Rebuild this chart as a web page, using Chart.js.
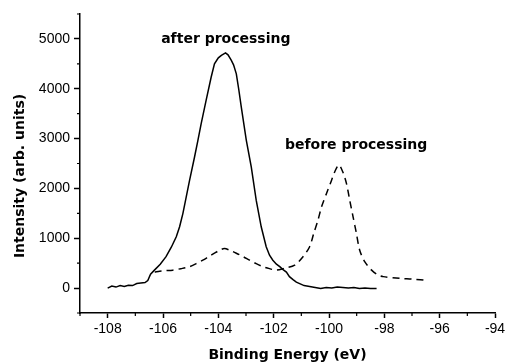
<!DOCTYPE html>
<html>
<head>
<meta charset="utf-8">
<script src="https://cdn.jsdelivr.net/npm/chart.js@4/dist/chart.umd.min.js"></script>
<style>
  html, body { margin: 0; padding: 0; background: #fff; }
  canvas { display: block; }
</style>
</head>
<body>
<canvas id="xpsChart" width="506" height="364"></canvas>
<script>
// --- data ---
const afterX = [-108.0, -107.85, -107.7, -107.55, -107.4, -107.25, -107.1, -106.95, -106.8, -106.65,
  -106.55, -106.45, -106.31, -106.1, -105.89, -105.7, -105.52, -105.4, -105.28, -105.16,
  -105.04, -104.86, -104.74, -104.62, -104.44, -104.26, -104.14, -104.0, -103.89, -103.8,
  -103.74, -103.65, -103.53, -103.45, -103.35, -103.26, -103.17, -102.99, -102.81, -102.63,
  -102.45, -102.27, -102.15, -102.03, -101.9, -101.78, -101.66, -101.54, -101.43, -101.3,
  -101.18, -101.06, -100.9, -100.7, -100.5, -100.3, -100.1, -99.9, -99.7, -99.5,
  -99.3, -99.1, -98.9, -98.7, -98.5, -98.28];
const afterY = [0, 40, 20, 50, 30, 55, 50, 90, 100, 110,
  150, 280, 360, 480, 630, 820, 1030, 1230, 1500, 1830,
  2160, 2630, 2960, 3300, 3770, 4230, 4500, 4620, 4670, 4700,
  4720, 4680, 4570, 4480, 4300, 3980, 3630, 2970, 2430, 1760,
  1230, 830, 660, 560, 480, 430, 370, 320, 230, 170,
  120, 90, 50, 30, 10, -10, 10, 0, 20, 10,
  0, 10, -10, 0, -10, -10];

const beforeX = [-106.3, -106.12, -105.9, -105.65, -105.35, -105.04, -104.8, -104.56, -104.35, -104.14,
  -103.95, -103.78, -103.55, -103.35, -103.1, -102.87, -102.63, -102.39, -102.15, -101.9,
  -101.6, -101.24, -100.94, -100.7, -100.55, -100.4, -100.27, -100.09, -99.91, -99.78,
  -99.64, -99.5, -99.37, -99.25, -99.13, -99.01, -98.89, -98.71, -98.46, -98.25,
  -98.04, -97.44, -97.0, -96.59, -96.46];
const beforeY = [320, 340, 350, 360, 390, 430, 490, 560, 630, 700,
  760, 795, 750, 700, 630, 560, 490, 430, 390, 360,
  400, 460, 630, 830, 1100, 1360, 1630, 1900, 2160, 2350,
  2470, 2330, 2100, 1760, 1430, 1100, 760, 530, 360, 270,
  230, 195, 180, 160, 140];

const xTicks = [-108, -106, -104, -102, -100, -98, -96, -94];
const xMinor = [-109, -107, -105, -103, -101, -99, -97, -95];
const yTicks = [0, 1000, 2000, 3000, 4000, 5000];
const yMinor = [-500, 500, 1500, 2500, 3500, 4500, 5500];

const notes = [
  { text: 'after processing', x: -103.73, y: 5000 },
  { text: 'before processing', x: -99.02, y: 2860 }
];

const boldFont = 'bold 14px "DejaVu Sans", sans-serif';

function toPoints(xs, ys) {
  return xs.map((x, i) => ({ x: x, y: ys[i] }));
}

// minor ticks, curve labels and the y title
const extras = {
  id: 'extras',
  afterDraw(chart) {
    const ctx = chart.ctx;
    const xs = chart.scales.x, ys = chart.scales.y;
    ctx.save();
    ctx.strokeStyle = '#000';
    ctx.lineWidth = 1.2;
    ctx.beginPath();
    xMinor.forEach(v => {
      const px = xs.getPixelForValue(v);
      ctx.moveTo(px, xs.top);
      ctx.lineTo(px, xs.top + 3);
    });
    yMinor.forEach(v => {
      const py = ys.getPixelForValue(v);
      ctx.moveTo(ys.right, py);
      ctx.lineTo(ys.right - 3, py);
    });
    ctx.stroke();

    ctx.fillStyle = '#000';
    ctx.font = boldFont;
    ctx.textAlign = 'center';
    ctx.textBaseline = 'middle';
    notes.forEach(n => {
      ctx.fillText(n.text, xs.getPixelForValue(n.x), ys.getPixelForValue(n.y));
    });

    ctx.translate(ys.left + 20, ys.getPixelForValue(2250));
    ctx.rotate(-Math.PI / 2);
    ctx.fillText('Intensity (arb. units)', 0, 0);
    ctx.restore();
  }
};

Chart.defaults.font.family = '"Liberation Sans", Arial, sans-serif';
Chart.defaults.font.size = 14;
Chart.defaults.color = '#000';

new Chart(document.getElementById('xpsChart'), {
  type: 'line',
  data: {
    datasets: [
      {
        label: 'after processing',
        data: toPoints(afterX, afterY),
        borderColor: '#000',
        borderWidth: 1.5,
        pointRadius: 0,
        tension: 0
      },
      {
        label: 'before processing',
        data: toPoints(beforeX, beforeY),
        borderColor: '#000',
        borderWidth: 1.5,
        borderDash: [7, 5],
        pointRadius: 0,
        tension: 0.3
      }
    ]
  },
  options: {
    responsive: false,
    animation: false,
    layout: { padding: { top: 14, right: 11, left: 0, bottom: 0 } },
    plugins: { legend: { display: false }, tooltip: { enabled: false } },
    scales: {
      x: {
        type: 'linear',
        min: -109,
        max: -94,
        afterBuildTicks: s => { s.ticks = xTicks.map(v => ({ value: v })); },
        afterFit: s => { s.height = 51; s.paddingLeft = 0; s.paddingRight = 0; },
        ticks: { padding: 3, maxRotation: 0, autoSkip: false, callback: v => String(v) },
        grid: { drawOnChartArea: false, tickLength: 5, tickWidth: 1.5, tickColor: '#000' },
        border: { color: '#000', width: 1.5 },
        title: {
          display: true,
          text: 'Binding Energy (eV)',
          font: { family: '"DejaVu Sans", sans-serif', weight: 'bold', size: 14 },
          padding: { top: 0, bottom: 0 }
        }
      },
      y: {
        min: -500,
        max: 5500,
        afterBuildTicks: s => { s.ticks = yTicks.map(v => ({ value: v })); },
        afterFit: s => { s.width = 80; },
        ticks: { padding: 4, callback: v => String(v) },
        grid: { drawOnChartArea: false, tickLength: 6, tickWidth: 1.5, tickColor: '#000' },
        border: { color: '#000', width: 1.5 }
      }
    }
  },
  plugins: [extras]
});
</script>
</body>
</html>
